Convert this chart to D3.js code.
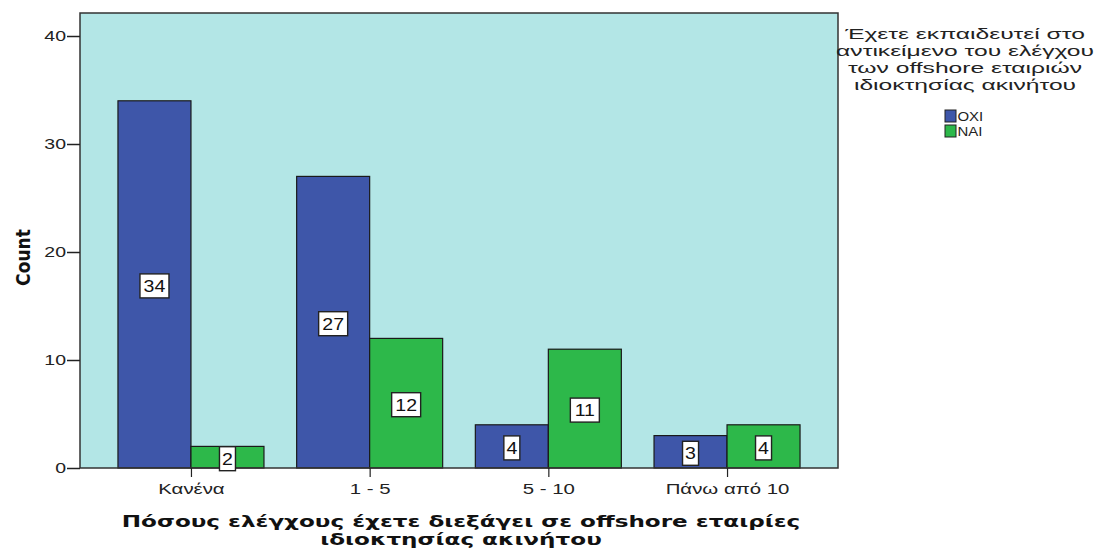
<!DOCTYPE html>
<html>
<head>
<meta charset="utf-8">
<script src="https://cdn.jsdelivr.net/npm/d3@7"></script>
<style>
  body { margin: 0; background: #fff; }
  svg { display: block; }
</style>
</head>
<body>
<svg id="chart" width="1107" height="552"></svg>
<script>
// Counts by number of audits performed, split by training status
const categories = ["Κανένα", "1 - 5", "5 - 10", "Πάνω από 10"];
const seriesNames = ["ΟΧΙ", "ΝΑΙ"];
const valuesOXI = [34, 27, 4, 3];
const valuesNAI = [2, 12, 11, 4];
const yTicks = [0, 10, 20, 30, 40];
const colors = ["#3e56a9", "#2db84a"];

const svg = d3.select("#chart");
const plot = { left: 80, top: 13, right: 838, bottom: 468 };
const font = "Liberation Sans, Arial, sans-serif";

const x = d3.scalePoint().domain(categories).range([plot.left, plot.right]).padding(0.621);
const barW = 73;
const y = d3.scaleLinear().domain([0, 42.13]).range([plot.bottom, plot.top]);

// plot background
svg.append("rect")
  .attr("x", plot.left).attr("y", plot.top)
  .attr("width", plot.right - plot.left).attr("height", plot.bottom - plot.top)
  .attr("fill", "#b3e6e6");

const rows = categories.map((c, i) => ({ cat: c, vals: [valuesOXI[i], valuesNAI[i]] }));

const groups = svg.append("g").selectAll("g").data(rows).join("g");
groups.selectAll("rect").data(d => d.vals.map((v, k) => ({ cat: d.cat, v, k })))
  .join("rect")
  .attr("x", d => x(d.cat) - barW + d.k * barW)
  .attr("y", d => y(d.v))
  .attr("width", barW)
  .attr("height", d => y(0) - y(d.v))
  .attr("fill", d => colors[d.k])
  .attr("stroke", "#1a1a1a")
  .attr("stroke-width", 1.2);

// plot frame
svg.append("rect")
  .attr("x", plot.left).attr("y", plot.top)
  .attr("width", plot.right - plot.left).attr("height", plot.bottom - plot.top)
  .attr("fill", "none").attr("stroke", "#333").attr("stroke-width", 1.5);

// x axis
const xAxis = d3.axisBottom(x).tickSize(9).tickPadding(6);
const gx = svg.append("g").attr("transform", `translate(0,${plot.bottom})`).call(xAxis);
gx.select(".domain").remove();
gx.selectAll(".tick line").attr("stroke", "#222").attr("stroke-width", 1.2);
gx.selectAll(".tick text")
  .attr("font-family", font).attr("font-size", 15).attr("fill", "#222")
  .attr("transform", "scale(1.36,1)");

// value labels
const labels = svg.append("g").selectAll("g")
  .data(rows.flatMap(d => d.vals.map((v, k) => ({ cat: d.cat, v, k }))))
  .join("g")
  .attr("transform", d => `translate(${x(d.cat) - barW / 2 + d.k * barW},${(y(d.v) + y(0)) / 2 + 1.5})`);
labels.append("rect")
  .attr("x", d => d.v >= 10 ? -14.5 : -8)
  .attr("y", -12)
  .attr("width", d => d.v >= 10 ? 29 : 16)
  .attr("height", 24)
  .attr("fill", "#fff").attr("stroke", "#222").attr("stroke-width", 1.4);
labels.append("text")
  .attr("text-anchor", "middle").attr("dy", "0.36em")
  .attr("font-family", font).attr("font-size", 17)
  .attr("fill", "#111")
  .attr("transform", "scale(1.15,1)")
  .text(d => d.v);

// y axis
const yAxis = d3.axisLeft(y).tickValues(yTicks).tickSize(13).tickPadding(0);
const gy = svg.append("g").attr("transform", `translate(${plot.left},0)`).call(yAxis);
gy.select(".domain").remove();
gy.selectAll(".tick line").attr("stroke", "#222").attr("stroke-width", 1.5);
gy.selectAll(".tick text")
  .attr("x", 0)
  .attr("font-family", font).attr("font-size", 15).attr("fill", "#222")
  .attr("transform", "translate(-14,0) scale(1.3,1)");

// axis titles
svg.append("text")
  .attr("transform", `translate(30,${(plot.top + plot.bottom) / 2 + 17}) rotate(-90)`)
  .attr("text-anchor", "middle")
  .attr("font-family", "DejaVu Sans Condensed, DejaVu Sans, sans-serif")
  .attr("font-weight", "bold").attr("font-size", 19).attr("fill", "#111")
  .text("Count");

const xTitle = svg.append("text")
  .attr("text-anchor", "middle")
  .attr("transform", "translate(461,0) scale(1.4,1)")
  .attr("font-family", "DejaVu Sans, Verdana, sans-serif")
  .attr("font-weight", "bold").attr("font-size", 16.5).attr("fill", "#111");
xTitle.append("tspan").attr("x", 0).attr("y", 527).text("Πόσους ελέγχους έχετε διεξάγει σε offshore εταιρίες");
xTitle.append("tspan").attr("x", 0).attr("y", 545).text("ιδιοκτησίας ακινήτου");

// legend
const legendTitle = ["Έχετε εκπαιδευτεί στο", "αντικείμενο του ελέγχου", "των offshore εταιριών", "ιδιοκτησίας ακινήτου"];
const lt = svg.append("text")
  .attr("text-anchor", "middle")
  .attr("transform", "translate(965,0) scale(1.76,1)")
  .attr("font-family", font).attr("font-size", 14).attr("fill", "#222");
legendTitle.forEach((s, i) => lt.append("tspan").attr("x", 0).attr("y", 39 + i * 17).text(s));

const legend = svg.append("g").selectAll("g").data(seriesNames).join("g")
  .attr("transform", (d, i) => `translate(945,${110 + i * 15})`);
legend.append("rect")
  .attr("width", 11).attr("height", 12)
  .attr("fill", (d, i) => colors[i]).attr("stroke", "#222").attr("stroke-width", 1);
legend.append("text")
  .attr("x", 0).attr("y", 6).attr("dy", "0.36em")
  .attr("transform", "translate(12.5,0) scale(1.15,1)")
  .attr("font-family", font).attr("font-size", 13).attr("fill", "#222")
  .text(d => d);
</script>
</body>
</html>
